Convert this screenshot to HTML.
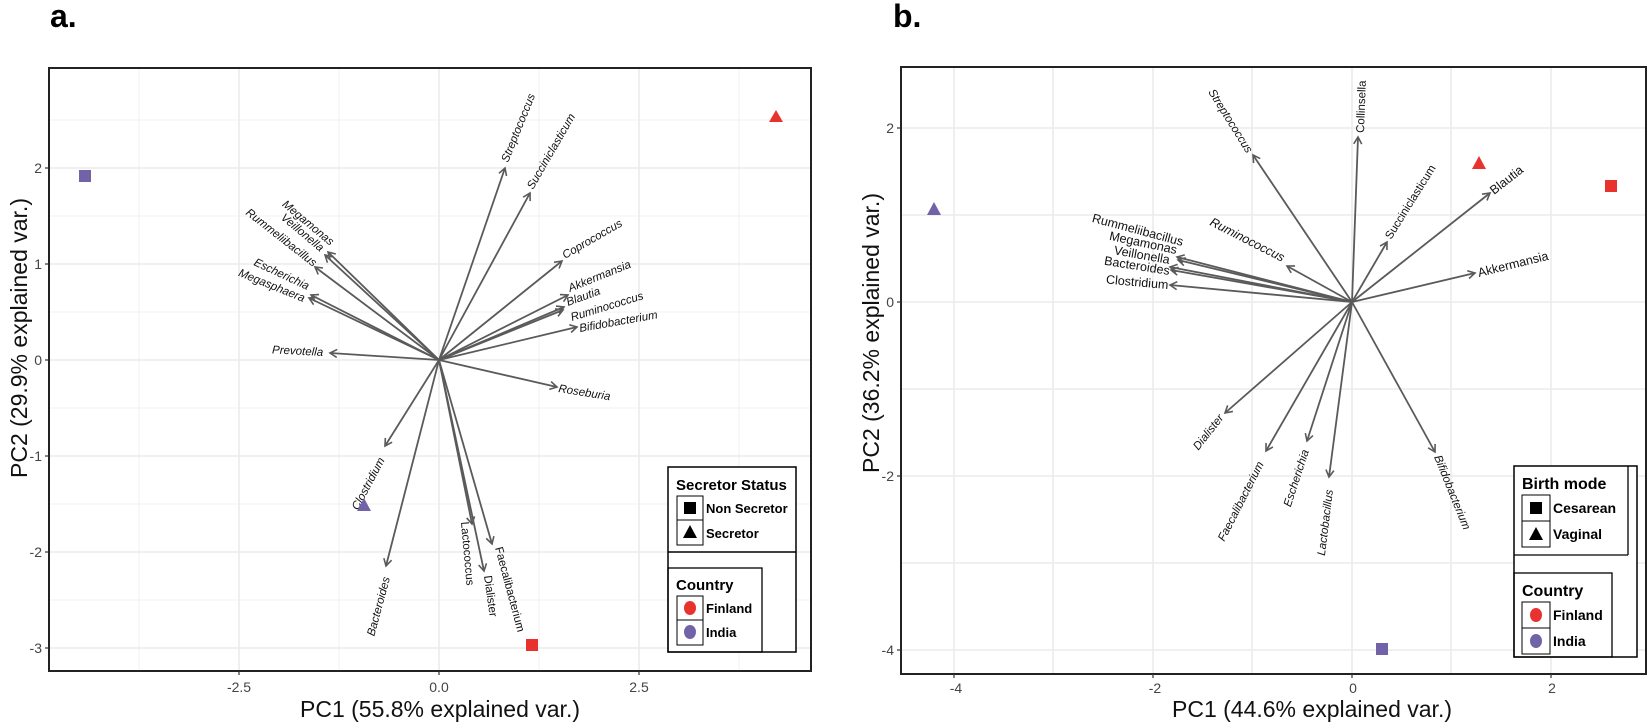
<!DOCTYPE html>
<html><head><meta charset="utf-8">
<style>
html,body{margin:0;padding:0;background:#fff;}
svg{display:block;font-family:"Liberation Sans",sans-serif;}
.g1{stroke:#ebebeb;stroke-width:1.6;}
.g2{stroke:#f2f2f2;stroke-width:1;}
.ar{stroke:#5a5a5a;stroke-width:1.8;fill:none;marker-end:url(#ah);}
.lb{font-size:11.5px;font-style:italic;fill:#111;}
.lb2{font-size:12.5px;font-style:italic;fill:#111;}
.up{font-style:normal;}
.tk{font-size:14px;fill:#444;}
.at{font-size:23px;fill:#111;}
.lg{font-family:"Liberation Sans Narrow","Liberation Sans",sans-serif;font-weight:bold;fill:#000;}
</style></head><body>
<svg width="1650" height="722" viewBox="0 0 1650 722">
<defs>
<marker id="ah" markerWidth="10" markerHeight="10" refX="8" refY="5" orient="auto" markerUnits="userSpaceOnUse">
<path d="M1,1 L8,5 L1,9" fill="none" stroke="#5a5a5a" stroke-width="1.6"/>
</marker>
</defs>

<!-- ================= PANEL A ================= -->
<text x="50" y="27" font-size="32" font-weight="bold">a.</text>
<g class="g2">
<line x1="49" y1="408" x2="811" y2="408"/><line x1="49" y1="312" x2="811" y2="312"/>
<line x1="49" y1="216" x2="811" y2="216"/><line x1="49" y1="120" x2="811" y2="120"/>
<line x1="49" y1="504" x2="811" y2="504"/><line x1="49" y1="600" x2="811" y2="600"/>
<line x1="139" y1="68" x2="139" y2="671"/><line x1="339" y1="68" x2="339" y2="671"/>
<line x1="539" y1="68" x2="539" y2="671"/><line x1="739" y1="68" x2="739" y2="671"/>
</g>
<g class="g1">
<line x1="49" y1="168" x2="811" y2="168"/><line x1="49" y1="264" x2="811" y2="264"/>
<line x1="49" y1="360" x2="811" y2="360"/><line x1="49" y1="456" x2="811" y2="456"/>
<line x1="49" y1="552" x2="811" y2="552"/><line x1="49" y1="648" x2="811" y2="648"/>
<line x1="239" y1="68" x2="239" y2="671"/><line x1="439" y1="68" x2="439" y2="671"/>
<line x1="639" y1="68" x2="639" y2="671"/>
</g>
<g class="ar">
<line x1="439" y1="360" x2="505" y2="168"/>
<line x1="439" y1="360" x2="530" y2="193"/>
<line x1="439" y1="360" x2="562" y2="261"/>
<line x1="439" y1="360" x2="568" y2="295"/>
<line x1="439" y1="360" x2="563" y2="310"/>
<line x1="439" y1="360" x2="564" y2="307"/>
<line x1="439" y1="360" x2="577" y2="327"/>
<line x1="439" y1="360" x2="557" y2="387"/>
<line x1="439" y1="360" x2="330" y2="353"/>
<line x1="439" y1="360" x2="325" y2="255"/>
<line x1="439" y1="360" x2="328" y2="252"/>
<line x1="439" y1="360" x2="315" y2="267"/>
<line x1="439" y1="360" x2="309" y2="298"/>
<line x1="439" y1="360" x2="311" y2="295"/>
<line x1="439" y1="360" x2="385" y2="446"/>
<line x1="439" y1="360" x2="386" y2="566"/>
<line x1="439" y1="360" x2="472" y2="524"/>
<line x1="439" y1="360" x2="484" y2="571"/>
<line x1="439" y1="360" x2="492" y2="544"/>
</g>
<text class="lb" transform="translate(508,163) rotate(-68)">Streptococcus</text>
<text class="lb" transform="translate(533,190) rotate(-60)">Succiniclasticum</text>
<text class="lb" transform="translate(565,259) rotate(-30)">Coprococcus</text>
<text class="lb" transform="translate(570,292) rotate(-22)">Akkermansia</text>
<text class="lb" transform="translate(568,306) rotate(-20)">Blautia</text>
<text class="lb" transform="translate(572,321) rotate(-17)">Ruminococcus</text>
<text class="lb" transform="translate(580,332) rotate(-10)">Bifidobacterium</text>
<text class="lb" transform="translate(558,392) rotate(9)">Roseburia</text>
<text class="lb" text-anchor="end" transform="translate(323,356) rotate(3)">Prevotella</text>
<text class="lb" text-anchor="end" transform="translate(330,246) rotate(40)">Megamonas</text>
<text class="lb" text-anchor="end" transform="translate(320,252) rotate(40)">Veillonella</text>
<text class="lb" text-anchor="end" transform="translate(313,267) rotate(38)">Rummeliibacillus</text>
<text class="lb" text-anchor="end" transform="translate(307,290) rotate(25)">Escherichia</text>
<text class="lb" text-anchor="end" transform="translate(303,302) rotate(22)">Megasphaera</text>
<text class="lb" text-anchor="end" transform="translate(385,460) rotate(-62)">Clostridium</text>
<text class="lb" text-anchor="end" transform="translate(390,578) rotate(-75)">Bacteroides</text>
<text class="lb up" transform="translate(461,522) rotate(85)">Lactococcus</text>
<text class="lb up" transform="translate(484,576) rotate(82)">Dialister</text>
<text class="lb up" transform="translate(495,548) rotate(75)">Faecalibacterium</text>
<rect x="79" y="170" width="12" height="12" fill="#7262a8"/>
<polygon points="776,110 769,122 783,122" fill="#e8322e"/>
<polygon points="364,498 357,511 371,511" fill="#7262a8"/>
<rect x="526" y="639" width="12" height="12" fill="#e8322e"/>
<rect x="49" y="68" width="762" height="603" fill="none" stroke="#222" stroke-width="2"/>
<g stroke="#333" stroke-width="1.2">
<line x1="45" y1="168" x2="49" y2="168"/><line x1="45" y1="264" x2="49" y2="264"/>
<line x1="45" y1="360" x2="49" y2="360"/><line x1="45" y1="456" x2="49" y2="456"/>
<line x1="45" y1="552" x2="49" y2="552"/><line x1="45" y1="648" x2="49" y2="648"/>
<line x1="239" y1="671" x2="239" y2="675"/><line x1="439" y1="671" x2="439" y2="675"/><line x1="639" y1="671" x2="639" y2="675"/>
</g>
<g class="tk" text-anchor="end">
<text x="42" y="173">2</text><text x="42" y="269">1</text><text x="42" y="365">0</text>
<text x="42" y="461">-1</text><text x="42" y="557">-2</text><text x="42" y="653">-3</text>
</g>
<g class="tk" text-anchor="middle">
<text x="239" y="692">-2.5</text><text x="439" y="692">0.0</text><text x="639" y="692">2.5</text>
</g>
<text class="at" text-anchor="middle" x="440" y="717">PC1 (55.8% explained var.)</text>
<text class="at" text-anchor="middle" font-size="26" transform="translate(27,338) rotate(-90)">PC2 (29.9% explained var.)</text>
<rect x="668" y="467" width="128" height="185" fill="#fff" stroke="#000" stroke-width="1.5"/>
<line x1="668" y1="552" x2="796" y2="552" stroke="#000" stroke-width="1.5"/>
<rect x="668" y="568" width="94" height="84" fill="none" stroke="#000" stroke-width="1.3"/>
<text class="lg" x="676" y="490" font-size="15">Secretor Status</text>
<rect x="677" y="496" width="26" height="24" fill="none" stroke="#000"/>
<rect x="677" y="520" width="26" height="25" fill="none" stroke="#000"/>
<rect x="684" y="502" width="12" height="12" fill="#000"/>
<polygon points="690,525 683,538 697,538" fill="#000"/>
<text class="lg" x="706" y="513" font-size="13">Non Secretor</text>
<text class="lg" x="706" y="538" font-size="13">Secretor</text>
<text class="lg" x="676" y="590" font-size="15">Country</text>
<rect x="677" y="596" width="26" height="24" fill="none" stroke="#000"/>
<rect x="677" y="620" width="26" height="25" fill="none" stroke="#000"/>
<ellipse cx="690" cy="608" rx="6" ry="7" fill="#e8322e"/>
<ellipse cx="690" cy="632" rx="6" ry="7" fill="#7262a8"/>
<text class="lg" x="706" y="613" font-size="13">Finland</text>
<text class="lg" x="706" y="637" font-size="13">India</text>

<!-- ================= PANEL B ================= -->
<text x="893" y="27" font-size="32" font-weight="bold">b.</text>
<g class="g1">
<line x1="901" y1="128" x2="1646" y2="128"/><line x1="901" y1="302" x2="1646" y2="302"/>
<line x1="901" y1="476" x2="1646" y2="476"/><line x1="901" y1="650" x2="1646" y2="650"/>
<line x1="901" y1="215" x2="1646" y2="215"/><line x1="901" y1="389" x2="1646" y2="389"/>
<line x1="901" y1="563" x2="1646" y2="563"/>
<line x1="954" y1="67" x2="954" y2="674"/><line x1="1153" y1="67" x2="1153" y2="674"/>
<line x1="1352" y1="67" x2="1352" y2="674"/><line x1="1551" y1="67" x2="1551" y2="674"/>
<line x1="1053" y1="67" x2="1053" y2="674"/><line x1="1252" y1="67" x2="1252" y2="674"/>
<line x1="1451" y1="67" x2="1451" y2="674"/>
</g>
<g class="ar">
<line x1="1352" y1="302" x2="1358" y2="137"/>
<line x1="1352" y1="302" x2="1253" y2="155"/>
<line x1="1352" y1="302" x2="1387" y2="242"/>
<line x1="1352" y1="302" x2="1490" y2="193"/>
<line x1="1352" y1="302" x2="1475" y2="273"/>
<line x1="1352" y1="302" x2="1287" y2="266"/>
<line x1="1352" y1="302" x2="1177" y2="257"/>
<line x1="1352" y1="302" x2="1178" y2="260"/>
<line x1="1352" y1="302" x2="1170" y2="267"/>
<line x1="1352" y1="302" x2="1171" y2="270"/>
<line x1="1352" y1="302" x2="1170" y2="285"/>
<line x1="1352" y1="302" x2="1225" y2="413"/>
<line x1="1352" y1="302" x2="1266" y2="451"/>
<line x1="1352" y1="302" x2="1307" y2="441"/>
<line x1="1352" y1="302" x2="1329" y2="477"/>
<line x1="1352" y1="302" x2="1435" y2="452"/>
</g>
<text class="lb" transform="translate(1208,92) rotate(58)">Streptococcus</text>
<text class="lb up" transform="translate(1364,133) rotate(-88)">Collinsella</text>
<text class="lb up" transform="translate(1391,240) rotate(-58)">Succiniclasticum</text>
<text class="lb2 up" transform="translate(1494,195) rotate(-38)">Blautia</text>
<text class="lb2 up" transform="translate(1479,277) rotate(-14)">Akkermansia</text>
<text class="lb2" text-anchor="end" transform="translate(1282,262) rotate(27)">Ruminococcus</text>
<text class="lb2 up" text-anchor="end" transform="translate(1182,246) rotate(15)">Rummeliibacillus</text>
<text class="lb2 up" text-anchor="end" transform="translate(1176,254) rotate(12)">Megamonas</text>
<text class="lb2 up" text-anchor="end" transform="translate(1169,264) rotate(10)">Veillonella</text>
<text class="lb2 up" text-anchor="end" transform="translate(1169,275) rotate(9)">Bacteroides</text>
<text class="lb2 up" text-anchor="end" transform="translate(1168,289) rotate(5)">Clostridium</text>
<text class="lb" text-anchor="end" transform="translate(1224,418) rotate(-52)">Dialister</text>
<text class="lb" text-anchor="end" transform="translate(1264,464) rotate(-63)">Faecalibacterium</text>
<text class="lb" text-anchor="end" transform="translate(1309,451) rotate(-72)">Escherichia</text>
<text class="lb" text-anchor="end" transform="translate(1333,490) rotate(-83)">Lactobacillus</text>
<text class="lb" transform="translate(1434,457) rotate(68)">Bifidobacterium</text>
<polygon points="934,202 927,215 941,215" fill="#7262a8"/>
<polygon points="1479,156 1472,169 1486,169" fill="#e8322e"/>
<rect x="1605" y="180" width="12" height="12" fill="#e8322e"/>
<rect x="1376" y="643" width="12" height="12" fill="#7262a8"/>
<rect x="901" y="67" width="745" height="607" fill="none" stroke="#222" stroke-width="2"/>
<g stroke="#333" stroke-width="1.2">
<line x1="897" y1="128" x2="901" y2="128"/><line x1="897" y1="302" x2="901" y2="302"/>
<line x1="897" y1="476" x2="901" y2="476"/><line x1="897" y1="650" x2="901" y2="650"/>
<line x1="954" y1="674" x2="954" y2="678"/><line x1="1153" y1="674" x2="1153" y2="678"/>
<line x1="1352" y1="674" x2="1352" y2="678"/><line x1="1551" y1="674" x2="1551" y2="678"/>
</g>
<g class="tk" text-anchor="end">
<text x="894" y="133">2</text><text x="894" y="307">0</text>
<text x="894" y="481">-2</text><text x="894" y="655">-4</text>
</g>
<g class="tk" text-anchor="middle">
<text x="956" y="693">-4</text><text x="1155" y="693">-2</text><text x="1353" y="693">0</text><text x="1552" y="693">2</text>
</g>
<text class="at" text-anchor="middle" x="1312" y="717">PC1 (44.6% explained var.)</text>
<text class="at" text-anchor="middle" font-size="25" transform="translate(879,333) rotate(-90)">PC2 (36.2% explained var.)</text>
<rect x="1514" y="466" width="123" height="191" fill="#fff" stroke="#000" stroke-width="1.5"/>
<line x1="1628" y1="466" x2="1628" y2="555" stroke="#000" stroke-width="1.3"/>
<line x1="1514" y1="555" x2="1628" y2="555" stroke="#000" stroke-width="1.3"/>
<rect x="1514" y="573" width="98" height="84" fill="none" stroke="#000" stroke-width="1.3"/>
<text class="lg" x="1522" y="489" font-size="16">Birth mode</text>
<rect x="1522" y="495" width="28" height="26" fill="none" stroke="#000"/>
<rect x="1522" y="521" width="28" height="26" fill="none" stroke="#000"/>
<rect x="1530" y="502" width="12" height="12" fill="#000"/>
<polygon points="1536,527 1529,540 1543,540" fill="#000"/>
<text class="lg" x="1553" y="513" font-size="14">Cesarean</text>
<text class="lg" x="1553" y="539" font-size="14">Vaginal</text>
<text class="lg" x="1522" y="596" font-size="16">Country</text>
<rect x="1522" y="602" width="28" height="26" fill="none" stroke="#000"/>
<rect x="1522" y="628" width="28" height="26" fill="none" stroke="#000"/>
<ellipse cx="1536" cy="615" rx="6" ry="7" fill="#e8322e"/>
<ellipse cx="1536" cy="641" rx="6" ry="7" fill="#7262a8"/>
<text class="lg" x="1553" y="620" font-size="14">Finland</text>
<text class="lg" x="1553" y="646" font-size="14">India</text>
</svg>
</body></html>
